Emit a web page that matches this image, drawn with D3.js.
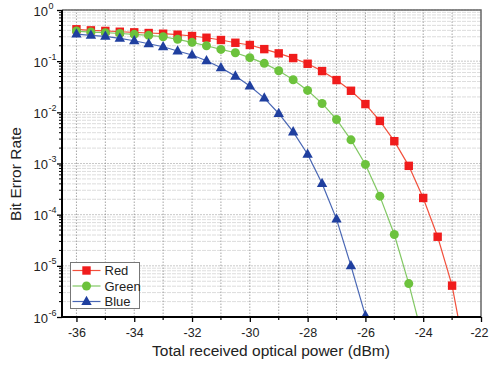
<!DOCTYPE html>
<html>
<head>
<meta charset="utf-8">
<script src="https://cdn.jsdelivr.net/npm/d3@7"></script>
<style>
	body { margin: 0; background: #fff; }
	svg { font-family: "Liberation Sans", Arial, sans-serif; }
</style>
</head>
<body>
<div class="ber-plot"></div>
<script>
// received power (dBm), 0.5 dB steps
const powerRed = [-36, -35.5, -35, -34.5, -34, -33.5, -33, -32.5, -32, -31.5, -31, -30.5, -30, -29.5, -29, -28.5, -28, -27.5, -27, -26.5, -26, -25.5, -25, -24.5, -24, -23.5, -23, -22.5];
const berRed = [0.42, 0.40, 0.39, 0.376, 0.366, 0.355, 0.344, 0.329, 0.31, 0.287, 0.259, 0.229, 0.207, 0.172, 0.142, 0.115, 0.089, 0.064, 0.0427, 0.0264, 0.0145, 0.0068, 0.00273, 0.0009, 2.12e-4, 3.7e-5, 4.1e-6, 1.3e-7];

const powerGreen = [-36, -35.5, -35, -34.5, -34, -33.5, -33, -32.5, -32, -31.5, -31, -30.5, -30, -29.5, -29, -28.5, -28, -27.5, -27, -26.5, -26, -25.5, -25, -24.5, -24];
const berGreen = [0.388, 0.371, 0.36, 0.347, 0.334, 0.32, 0.30, 0.267, 0.233, 0.2, 0.17, 0.146, 0.117, 0.0906, 0.065, 0.0433, 0.0268, 0.0149, 0.00726, 0.0029, 9.6e-4, 2.3e-4, 4.1e-5, 4.5e-6, 3.6e-7];

const powerBlue = [-36, -35.5, -35, -34.5, -34, -33.5, -33, -32.5, -32, -31.5, -31, -30.5, -30, -29.5, -29, -28.5, -28, -27.5, -27, -26.5, -26];
const berBlue = [0.339, 0.32, 0.306, 0.279, 0.251, 0.219, 0.191, 0.158, 0.132, 0.102, 0.0743, 0.051, 0.0326, 0.019, 0.0095, 0.00415, 0.00152, 4.06e-4, 8.2e-5, 1.0e-5, 1.06e-6];

const xTicks = [-36, -34, -32, -30, -28, -26, -24, -22];
const yExponents = [0, -1, -2, -3, -4, -5, -6];

const series = [
	{ name: 'Red', x: powerRed, y: berRed, fill: '#f01c1c', line: '#f2503c', shape: 'square' },
	{ name: 'Green', x: powerGreen, y: berGreen, fill: '#6cc23c', line: '#82c864', shape: 'circle' },
	{ name: 'Blue', x: powerBlue, y: berBlue, fill: '#1f3f9f', line: '#4866b4', shape: 'triangle' }
];

renderPlot();

function marker(g, shape, fill) {
	if (shape == 'square') {
		g.append('rect').attr('x', -4.2).attr('y', -4.2).attr('width', 8.4).attr('height', 8.4).attr('fill', fill);
	} else if (shape == 'circle') {
		g.append('circle').attr('r', 4.5).attr('fill', fill);
	} else {
		g.append('path').attr('d', 'M0,-5.8L5.2,3.5L-5.2,3.5Z').attr('fill', fill);
	}
}

function renderPlot() {
	const width = 489;
	const height = 369;
	const margin = { left: 62, right: 8, top: 10, bottom: 52 };

	const svg = d3.select('.ber-plot')
		.append('svg')
		.attr('width', width)
		.attr('height', height);

	const x = d3.scaleLinear()
		.domain([-36.5, -22])
		.range([margin.left, width - margin.right]);
	const y = d3.scaleLog()
		.domain([1e-6, 1])
		.range([height - margin.bottom, margin.top]);

	const x0 = margin.left, x1 = width - margin.right;
	const y0 = height - margin.bottom, y1 = margin.top;

	svg.append('defs').append('clipPath').attr('id', 'plot-clip')
		.append('rect')
		.attr('x', x0).attr('y', y1)
		.attr('width', x1 - x0).attr('height', y0 - y1);

	// horizontal grid: decades + minor log values
	const minorY = [];
	yExponents.forEach(e => {
		if (e > -6) {
			for (let k = 2; k <= 9; k++) minorY.push(k * Math.pow(10, e - 1));
		}
	});
	const grid = svg.append('g').attr('class', 'grid');
	grid.selectAll('.hminor')
		.data(minorY)
		.enter()
		.append('line')
		.attr('x1', x0).attr('x2', x1)
		.attr('y1', d => y(d)).attr('y2', d => y(d))
		.attr('stroke', '#d4d4d4')
		.attr('stroke-width', 0.8)
		.attr('stroke-dasharray', '4,1');
	grid.selectAll('.hmajor')
		.data(yExponents.map(e => Math.pow(10, e)))
		.enter()
		.append('line')
		.attr('x1', x0).attr('x2', x1)
		.attr('y1', d => y(d)).attr('y2', d => y(d))
		.attr('stroke', '#bbbbbb')
		.attr('stroke-width', 0.8)
		.attr('stroke-dasharray', '2,1');
	grid.selectAll('.vgrid')
		.data(d3.range(-36, -22, 1))
		.enter()
		.append('line')
		.attr('x1', d => x(d)).attr('x2', d => x(d))
		.attr('y1', y0).attr('y2', y1)
		.attr('stroke', '#8f8f8f')
		.attr('stroke-width', 0.8)
		.attr('stroke-dasharray', '1.5,1.5');

	// top and right frame
	svg.append('path')
		.attr('d', `M${x0},${y1}H${x1}V${y0}`)
		.attr('fill', 'none')
		.attr('stroke', '#666')
		.attr('stroke-width', 1.5);

	// series
	const plot = svg.append('g').attr('clip-path', 'url(#plot-clip)');
	const line = d3.line().x(d => x(d[0])).y(d => y(d[1]));
	series.forEach(s => {
		const pts = s.x.map((v, i) => [v, s.y[i]]);
		plot.append('path')
			.datum(pts)
			.attr('d', line)
			.attr('fill', 'none')
			.attr('stroke', s.line)
			.attr('stroke-width', 1.2);
		plot.selectAll('.m-' + s.name)
			.data(pts)
			.enter()
			.append('g')
			.attr('transform', d => `translate(${x(d[0])},${y(d[1])})`)
			.each(function () { marker(d3.select(this), s.shape, s.fill); });
	});

	// bottom axis
	const xAxis = svg.append('g')
		.attr('transform', `translate(0,${y0})`)
		.call(d3.axisBottom(x).tickValues(xTicks).tickSize(5).tickSizeOuter(0).tickFormat(d => d));
	xAxis.select('.domain').remove();
	xAxis.selectAll('text').attr('font-size', '12.5px').attr('fill', '#222').attr('dy', '12px');
	// last label sits at the window edge; keep it inside
	xAxis.selectAll('text').filter(d => d == -22).attr('text-anchor', 'end').attr('x', 7);
	xAxis.selectAll('line').attr('stroke-width', 1.3);
	svg.append('g')
		.attr('transform', `translate(0,${y0})`)
		.selectAll('line')
		.data(d3.range(-35, -22, 2))
		.enter()
		.append('line')
		.attr('x1', d => x(d)).attr('x2', d => x(d))
		.attr('y1', 0).attr('y2', 3)
		.attr('stroke', '#000')
		.attr('stroke-width', 1.2);

	// left axis
	const yAxis = svg.append('g')
		.attr('transform', `translate(${x0},0)`)
		.call(d3.axisLeft(y).tickValues(yExponents.map(e => Math.pow(10, e))).tickSize(5).tickSizeOuter(0).tickFormat(''));
	yAxis.select('.domain').remove();
	yAxis.selectAll('line').attr('stroke-width', 1.3);
	svg.append('g')
		.selectAll('line')
		.data(minorY)
		.enter()
		.append('line')
		.attr('x1', x0 - 3).attr('x2', x0)
		.attr('y1', d => y(d)).attr('y2', d => y(d))
		.attr('stroke', '#000')
		.attr('stroke-width', 1);
	svg.append('g').selectAll('text')
		.data(yExponents)
		.enter()
		.append('text')
		.attr('x', 48)
		.attr('y', d => y(Math.pow(10, d)) + 5.5)
		.attr('text-anchor', 'end')
		.attr('font-size', '13px')
		.attr('fill', '#222')
		.text('10');
	svg.append('g').selectAll('text')
		.data(yExponents)
		.enter()
		.append('text')
		.attr('x', 48.5)
		.attr('y', d => y(Math.pow(10, d)) - 1.5)
		.attr('font-size', '9px')
		.attr('fill', '#222')
		.text(d => d == 0 ? '0' : '-' + Math.abs(d));

	// axis lines
	svg.append('path')
		.attr('d', `M${x0},${y1}V${y0}H${x1}`)
		.attr('fill', 'none')
		.attr('stroke', '#000')
		.attr('stroke-width', 2);

	// axis titles
	svg.append('text')
		.attr('x', 271)
		.attr('y', 356)
		.attr('text-anchor', 'middle')
		.attr('font-size', '15.5px')
		.attr('fill', '#222')
		.text('Total received optical power (dBm)');
	svg.append('text')
		.attr('transform', 'translate(21,174) rotate(-90)')
		.attr('text-anchor', 'middle')
		.attr('font-size', '15.5px')
		.attr('fill', '#222')
		.text('Bit Error Rate');

	// legend
	const legend = svg.append('g').attr('transform', 'translate(70.5,262.5)');
	legend.append('rect')
		.attr('width', 69)
		.attr('height', 46)
		.attr('fill', '#fff')
		.attr('stroke', '#777')
		.attr('stroke-width', 1);
	series.forEach((s, i) => {
		const ly = 8 + i * 15.5;
		legend.append('line')
			.attr('x1', 2).attr('x2', 30)
			.attr('y1', ly).attr('y2', ly)
			.attr('stroke', s.line)
			.attr('stroke-width', 1.2);
		const g = legend.append('g').attr('transform', `translate(16,${ly})`);
		marker(g, s.shape, s.fill);
		legend.append('text')
			.attr('x', 34)
			.attr('y', ly + 4.5)
			.attr('font-size', '13px')
			.attr('fill', '#222')
			.text(s.name);
	});
}
</script>
</body>
</html>
